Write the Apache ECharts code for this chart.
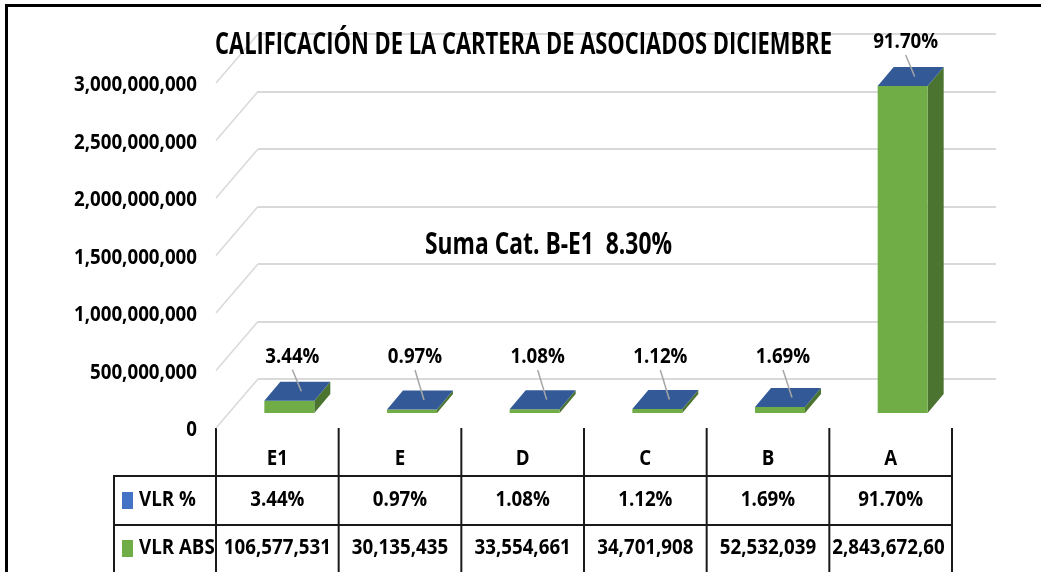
<!DOCTYPE html>
<html>
<head>
<meta charset="utf-8">
<script src="https://cdn.jsdelivr.net/npm/echarts@6/dist/echarts.min.js"></script>
<style>
html,body{margin:0;padding:0;background:#fff;}
#chart{width:1041px;height:572px;}
</style>
</head>
<body>
<div id="chart"></div>
<script>
// ---- data ----
const categories = ['E1', 'E', 'D', 'C', 'B', 'A'];
const vlrPct = [3.44, 0.97, 1.08, 1.12, 1.69, 91.70];
const vlrAbs = [106577531, 30135435, 33554661, 34701908, 52532039, 2843672604];
const yTicks = [0, 500000000, 1000000000, 1500000000, 2000000000, 2500000000, 3000000000];
const seriesNames = ['VLR %', 'VLR ABS'];
const titleText = 'CALIFICACIÓN DE LA CARTERA DE ASOCIADOS DICIEMBRE';
const noteLabel = 'Suma Cat. B-E1';

// ---- layout ----
const FAMILY = '"Open Sans", "Noto Sans", sans-serif';
const G = { left: 216, right: 89, top: 83, bottom: 144 }; // front plane
const DEPTH = { dx: 42, dy: -49 };   // front -> back wall
const BAR = { dx: 12, dy: -15, w: 50, ddx: 16, ddy: -19 };
const W = 1041, H = 572;
const colW = (W - G.left - G.right) / categories.length;

const fmt = v => v.toLocaleString('en-US');
const pct = v => v.toFixed(2) + '%';
const sumOthers = vlrPct.slice(0, 5).reduce((a, b) => a + b, 0);

// text measuring for horizontal condensing (reference font is narrow)
const mctx = document.createElement('canvas').getContext('2d');
function measure(text, font) { mctx.font = font; return mctx.measureText(text).width; }
const F21 = 'bold 22px ' + FAMILY;
const S = 107 / measure('106,577,531', F21);         // common condense factor
const F30 = 'bold 31px ' + FAMILY;
const titleScale = 617 / measure(titleText, F30);
const noteText = noteLabel + '  ' + sumOthers.toFixed(2) + '%';
const noteScale = 247 / measure(noteText, F30);

function txt(x, y, text, align, extra) {
  return Object.assign({ type: 'text', x: x, y: y, scaleX: S, silent: true,
    style: { text: text, font: F21, fill: '#000', align: align || 'center', verticalAlign: 'middle' } }, extra || {});
}

const chart = echarts.init(document.getElementById('chart'), null, { renderer: 'canvas' });

const tableGraphics = [];
const lineStyle = { stroke: '#1a1a1a', lineWidth: 2 };
for (let i = 0; i <= categories.length; i++) {
  const x = G.left + i * colW;
  tableGraphics.push({ type: 'line', shape: { x1: x, y1: 428, x2: x, y2: H }, style: lineStyle, silent: true });
}
tableGraphics.push({ type: 'line', shape: { x1: 114, y1: 476, x2: 114, y2: H }, style: lineStyle, silent: true });
[476, 525].forEach(y => tableGraphics.push({ type: 'line', shape: { x1: 113, y1: y, x2: G.left + categories.length * colW + 1, y2: y }, style: lineStyle, silent: true }));
const rowY = [459, 500, 548];
categories.forEach((c, i) => {
  const cx = G.left + (i + 0.5) * colW;
  tableGraphics.push(txt(cx, rowY[0], c));
  tableGraphics.push(txt(cx, rowY[1], pct(vlrPct[i])));
  const s = fmt(vlrAbs[i]);
  const wS = measure(s, F21) * S;
  if (wS <= colW - 6) {
    tableGraphics.push(txt(cx, rowY[2], s));
  } else {
    const t = txt(cx - colW / 2 + 3, rowY[2], s, 'left');
    t.style.width = (colW - 4) / S; t.style.overflow = 'truncate'; t.style.ellipsis = '';
    tableGraphics.push(t);
  }
});
tableGraphics.push({ type: 'rect', shape: { x: 122, y: 492, width: 11, height: 17 }, style: { fill: '#4472C4' } });
tableGraphics.push({ type: 'rect', shape: { x: 122, y: 540, width: 11, height: 17 }, style: { fill: '#70AD47' } });
tableGraphics.push(txt(139, rowY[1], seriesNames[0], 'left'));
tableGraphics.push(txt(139, rowY[2], seriesNames[1], 'left'));

const option = {
  animation: false,
  backgroundColor: '#fff',
  grid: [
    { left: G.left, right: G.right, top: G.top, bottom: G.bottom },
    { left: G.left + DEPTH.dx, right: G.right - DEPTH.dx - 2, top: G.top + DEPTH.dy, bottom: G.bottom - DEPTH.dy }
  ],
  xAxis: [
    { type: 'category', data: categories, gridIndex: 0, axisLine: { show: false }, axisTick: { show: false }, axisLabel: { show: false } },
    { type: 'category', data: categories, gridIndex: 1, axisLine: { show: false }, axisTick: { show: false }, axisLabel: { show: false } }
  ],
  yAxis: [
    { type: 'value', gridIndex: 0, min: yTicks[0], max: yTicks[yTicks.length - 1], interval: yTicks[1] - yTicks[0],
      axisLine: { show: false }, axisTick: { show: false }, splitLine: { show: false }, axisLabel: { show: false } },
    { type: 'value', gridIndex: 1, min: yTicks[0], max: yTicks[yTicks.length - 1], interval: yTicks[1] - yTicks[0],
      axisLine: { show: false }, axisTick: { show: false }, axisLabel: { show: false },
      splitLine: { show: true, lineStyle: { color: '#D9D9D9', width: 2 } } }
  ],
  series: [
    // left wall diagonals + value-axis tick labels
    {
      type: 'custom', xAxisIndex: 0, yAxisIndex: 0, silent: true, z: 1,
      data: yTicks.map(v => [0, v]),
      renderItem: (params, api) => {
        const p = api.coord([0, api.value(1)]);
        const x0 = G.left;
        return { type: 'group', children: [
          { type: 'line', shape: { x1: x0, y1: p[1], x2: x0 + DEPTH.dx, y2: p[1] + DEPTH.dy }, style: { stroke: '#D9D9D9', lineWidth: 1.5 } },
          txt(197, p[1] + 2, fmt(api.value(1)), 'right')
        ] };
      }
    },
    // 3D bars: VLR ABS (green body) topped by VLR % (blue cap, zero height)
    {
      type: 'custom', name: seriesNames[1], xAxisIndex: 0, yAxisIndex: 0, z: 5,
      data: vlrAbs.map((v, i) => [i, v, vlrPct[i]]),
      renderItem: (params, api) => {
        const base = api.coord([api.value(0), 0]);
        const top = api.coord([api.value(0), api.value(1)]);
        const cx = base[0] + BAR.dx;
        const x0 = cx - BAR.w / 2, x1 = cx + BAR.w / 2;
        const yb = base[1] + BAR.dy, yt = top[1] + BAR.dy;
        const ddx = BAR.ddx, ddy = BAR.ddy;
        const labelX = cx + 3;
        const labelY = Math.min(yt + ddy - 25, 357);
        const topC = [cx + ddx / 2 + 4, yt + ddy / 2];
        return {
          type: 'group',
          children: [
            { type: 'polygon', shape: { points: [[x1, yb], [x1 + ddx, yb + ddy], [x1 + ddx, yt + ddy], [x1, yt]] }, style: { fill: '#4B7431' } },
            { type: 'rect', shape: { x: x0, y: yt, width: BAR.w, height: yb - yt }, style: { fill: '#70AD47' } },
            { type: 'polygon', shape: { points: [[x0, yt], [x1, yt], [x1 + ddx, yt + ddy], [x0 + ddx, yt + ddy]] }, style: { fill: '#335A97' } },
            { type: 'line', shape: { x1: labelX, y1: labelY + 13, x2: topC[0], y2: topC[1] }, style: { stroke: '#A6A6A6', lineWidth: 1.5 } },
            txt(labelX, labelY, pct(api.value(2)))
          ]
        };
      }
    }
  ],
  graphic: [
    { type: 'line', shape: { x1: 5, y1: 5.5, x2: W, y2: 5.5 }, style: { stroke: '#000', lineWidth: 3 }, silent: true },
    { type: 'line', shape: { x1: 6.5, y1: 4, x2: 6.5, y2: H }, style: { stroke: '#000', lineWidth: 3 }, silent: true },
    { type: 'text', x: 523.5, y: 45, scaleX: titleScale, silent: true, style: { text: titleText, font: F30, fill: '#000', align: 'center', verticalAlign: 'middle' }, z: 10 },
    { type: 'text', x: 548.5, y: 245, scaleX: noteScale, silent: true, style: { text: noteText, font: F30, fill: '#000', align: 'center', verticalAlign: 'middle' }, z: 10 },
    ...tableGraphics
  ]
};
chart.setOption(option);
</script>
</body>
</html>
